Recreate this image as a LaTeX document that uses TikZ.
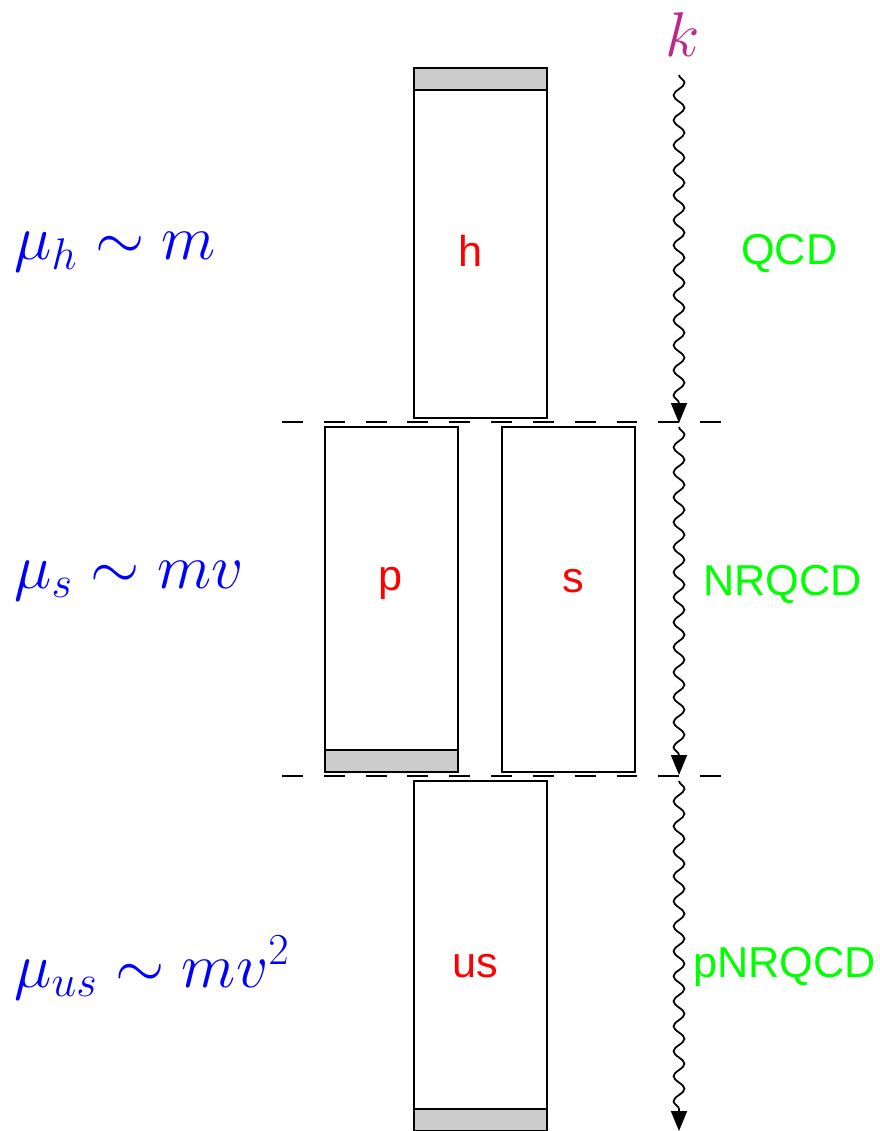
\RequirePackage{fix-cm}
\documentclass[tikz,border=0pt]{standalone}
\usepackage{fontspec}
\setmainfont{Liberation Sans}
\usetikzlibrary{calc,arrows.meta,decorations.pathmorphing}
\definecolor{kmag}{RGB}{190,40,140}

\begin{document}
\begin{tikzpicture}[x=0.02cm, y=-0.02cm,
  box/.style={draw, line width=1pt, minimum width=2.66cm, inner sep=0pt, outer sep=0pt},
  strip/.style={draw, line width=1pt, fill=black!20},
  lab/.style={text=red, anchor=base, font=\fontsize{24.6}{28}\selectfont},
  eft/.style={text=green, anchor=base west, font=\fontsize{24.6}{28}\selectfont},
  scl/.style={text=blue, anchor=base west, inner sep=0pt, font=\fontsize{36}{40}\selectfont},
  cut/.style={line width=0.9pt, dash pattern=on 11.9pt off 11.9pt},
  wave/.style={line width=1pt, -{Triangle[length=0.4cm,width=0.32cm]}, decorate,
    decoration={snake, amplitude=0.11cm, segment length=0.5cm, post length=0.35cm}}]
  \useasboundingbox (0,0) rectangle (879,1131);
  % boxes
  \node[box, minimum height=7cm] (h) at (480.5,243) {};
  \node[box, minimum height=6.9cm] (p) at (391.5,599.5) {};
  \node[box, minimum height=6.9cm] (s) at (568.5,599.5) {};
  \node[box, minimum height=7cm] (us) at (480.5,956) {};
  \draw[strip] (h.north west) rectangle ($(h.north east)+(0,22)$);
  \draw[strip] ($(p.south west)+(0,-22)$) rectangle (p.south east);
  \draw[strip] ($(us.south west)+(0,-22)$) rectangle (us.south east);
  \node[lab] (hl) at (471,267) {h};
  \node[lab] (pl) at (391,590) {p};
  \node[lab] (sl) at (573,592) {s};
  \node[lab] (usl) at (475,977) {us};
  % matching scales
  \coordinate (c1w) at (282,422);
  \coordinate (c1e) at (722,422);
  \coordinate (c2w) at (282,776);
  \coordinate (c2e) at (722,776);
  \draw[cut] (c1w) -- (c1e);
  \draw[cut] (c2w) -- (c2e);
  % momentum flow
  \node[text=kmag, font=\fontsize{36}{40}\selectfont] (k) at (683,35) {$k$};
  \coordinate (w0) at (679,75);
  \coordinate (w1) at (679,423);
  \coordinate (w2) at (679,427);
  \coordinate (w3) at (679,775);
  \coordinate (w4) at (679,781);
  \coordinate (w5) at (679,1131);
  \draw[wave] (w0) -- (w1);
  \draw[wave] (w2) -- (w3);
  \draw[wave] (w4) -- (w5);
  % scales and theories
  \node[scl] (muh) at (14,260) {$\mu_h\sim m$};
  \node[scl] (mus) at (14,588) {$\mu_s\sim mv$};
  \node[scl] (muus) at (14,987) {$\mu_{us}\sim mv^2$};
  \node[eft] (qcd) at (735,265) {QCD};
  \node[eft] (nrqcd) at (697,595) {NRQCD};
  \node[eft] (pnrqcd) at (687,977) {pNRQCD};
\end{tikzpicture}
\end{document}
